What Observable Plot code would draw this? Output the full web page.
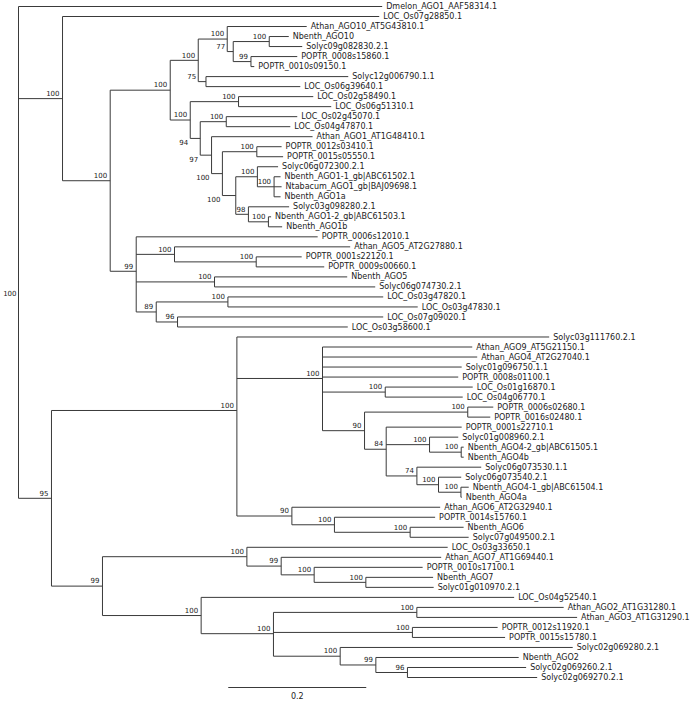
<!DOCTYPE html>
<html><head><meta charset="utf-8">
<script src="https://cdn.jsdelivr.net/npm/d3@7"></script>
<script src="https://cdn.jsdelivr.net/npm/@observablehq/plot@0.6"></script>
<style>body{margin:0;background:#fff}</style>
</head><body><div id="chart"></div>
<script>
// ---- Data: leaves (top to bottom), their parent node and branch length ----
const leafNames = [
"Dmelon_AGO1_AAF58314.1","LOC_Os07g28850.1","Athan_AGO10_AT5G43810.1","Nbenth_AGO10","Solyc09g082830.2.1",
"POPTR_0008s15860.1","POPTR_0010s09150.1","Solyc12g006790.1.1","LOC_Os06g39640.1","LOC_Os02g58490.1",
"LOC_Os06g51310.1","LOC_Os02g45070.1","LOC_Os04g47870.1","Athan_AGO1_AT1G48410.1","POPTR_0012s03410.1",
"POPTR_0015s05550.1","Solyc06g072300.2.1","Nbenth_AGO1-1_gb|ABC61502.1","Ntabacum_AGO1_gb|BAJ09698.1","Nbenth_AGO1a",
"Solyc03g098280.2.1","Nbenth_AGO1-2_gb|ABC61503.1","Nbenth_AGO1b","POPTR_0006s12010.1","Athan_AGO5_AT2G27880.1",
"POPTR_0001s22120.1","POPTR_0009s00660.1","Nbenth_AGO5","Solyc06g074730.2.1","LOC_Os03g47820.1",
"LOC_Os03g47830.1","LOC_Os07g09020.1","LOC_Os03g58600.1","Solyc03g111760.2.1","Athan_AGO9_AT5G21150.1",
"Athan_AGO4_AT2G27040.1","Solyc01g096750.1.1","POPTR_0008s01100.1","LOC_Os01g16870.1","LOC_Os04g06770.1",
"POPTR_0006s02680.1","POPTR_0016s02480.1","POPTR_0001s22710.1","Solyc01g008960.2.1","Nbenth_AGO4-2_gb|ABC61505.1",
"Nbenth_AGO4b","Solyc06g073530.1.1","Solyc06g073540.2.1","Nbenth_AGO4-1_gb|ABC61504.1","Nbenth_AGO4a",
"Athan_AGO6_AT2G32940.1","POPTR_0014s15760.1","Nbenth_AGO6","Solyc07g049500.2.1","LOC_Os03g33650.1",
"Athan_AGO7_AT1G69440.1","POPTR_0010s17100.1","Nbenth_AGO7","Solyc01g010970.2.1","LOC_Os04g52540.1",
"Athan_AGO2_AT1G31280.1","Athan_AGO3_AT1G31290.1","POPTR_0012s11920.1","POPTR_0015s15780.1","Solyc02g069280.2.1",
"Nbenth_AGO2","Solyc02g069260.2.1","Solyc02g069270.2.1"];
const leafParents = [
"root","A","G","J","J","K","K","H","H","M",
"M","M2","M2","O","Q2","Q2","S2","T2","T2","T2",
"U2","V2","V2","E","P","Q","Q","R","R","T",
"T","U","U","V","W","W","W","W","Y","Y",
"Z1","Z1","Z2","Z3","Z5","Z5","Z4","Z6","Z7","Z7",
"X","X2","X3","X3","C1","C3","C4","C5","C5","C2",
"C7","C7","C8","C8","C9","C10","C11","C11"];
const leafLengths = [
0.5271,0.4590,0.1152,0.0283,0.0478,0.0671,0.0048,0.2062,0.1367,0.1083,
0.1343,0.1029,0.0928,0.1464,0.0359,0.0381,0.0300,0.0094,0.0109,0.0094,
0.0590,0.0039,0.0199,0.2630,0.2546,0.0659,0.0986,0.1923,0.2329,0.2251,
0.2751,0.2981,0.2467,0.4526,0.2170,0.2242,0.2017,0.1967,0.1268,0.1123,
0.0370,0.0326,0.1094,0.0416,0.0036,0.0036,0.0932,0.0329,0.0113,0.0012,
0.2149,0.1459,0.0775,0.0848,0.2910,0.2319,0.1572,0.0975,0.0983,0.4536,
0.2128,0.2323,0.1235,0.1343,0.3370,0.2070,0.1720,0.1880];

// ---- Data: internal nodes, parent, branch length, bootstrap support ----
const nodeIds = ["root","R0","A","C","D","F","G","I","J","K","H","L","M","N","M2","O","P2","Q2","R2","S2","T2","U2","V2",
"E","P","Q","R","S","T","U","B","V","W","Y","Z","Z1","Z2","Z3","Z5","Z4","Z6","Z7","X","X2","X3",
"B2","C1","C3","C4","C5","C2","C6","C7","C8","C9","C10","C11"];
const nodeParents = [null,"root","R0","A","C","D","F","G","I","I","F","D","L","L","N","N","O","P2","P2","R2","S2","R2","U2",
"C","E","P","E","E","S","S","R0","B","V","W","W","Z","Z","Z2","Z3","Z2","Z4","Z6","V","X","X2",
"B","B2","C1","C3","C4","B2","C2","C6","C6","C6","C9","C10"];
const nodeLengths = [0,0,0.0638,0.0691,0.0870,0.0406,0.0420,0.0087,0.0522,0.0257,0.0112,0.0290,0.0700,0.0145,0.0377,0.0164,0.0157,0.0499,0.0194,0.0313,0.0242,0.0183,0.0290,
0.0377,0.0555,0.1184,0.1135,0.0290,0.1039,0.0309,0.0478,0.2687,0.1241,0.0909,0.0609,0.1496,0.0314,0.0628,0.0459,0.0445,0.0313,0.0325,0.0797,0.0617,0.1097,
0.0739,0.2093,0.0497,0.0478,0.0749,0.1430,0.1048,0.2078,0.2014,0.0967,0.0517,0.0458];
const nodeSupports = [null,100,100,100,100,100,100,77,100,99,75,100,100,94,100,97,100,100,100,100,100,98,100,
99,100,100,100,89,100,96,95,100,100,100,90,100,84,100,100,74,100,100,90,100,100,
99,100,99,100,100,100,100,100,100,100,99,96];

const scaleBarStart = 0.304;
const scaleBarLength = 0.2;
const scaleBarLabel = "0.2";

// ---- Styling / layout ----
const supportBelow = new Set(["N","O","P2","R2"]);
const width = 697, height = 703;
const marginLeft = 18, marginRight = 0, marginTop = 6, marginBottom = 26;
const pxPerUnit = 690;
const supFont = 7, leafFont = 8;
const lineColor = "#3a3a3a", textColor = "#222";

// ---- Build tree ----
const nodes = new Map();
nodeIds.forEach((id, i) => nodes.set(id, {id, parent: nodeParents[i], length: nodeLengths[i], support: nodeSupports[i], leaf: false, children: []}));
leafNames.forEach((name, i) => nodes.set("leaf:" + name, {id: name, parent: leafParents[i], length: leafLengths[i], leaf: true, y: i, children: []}));
for (const n of nodes.values()) if (n.parent) nodes.get(n.parent).children.push(n);
function depthOf(n) { if (n.depth !== undefined) return n.depth; n.depth = n.parent ? depthOf(nodes.get(n.parent)) + n.length : 0; return n.depth; }
function yOf(n) { if (n.y !== undefined) return n.y; n.y = d3.mean(n.children, yOf); return n.y; }
for (const n of nodes.values()) { depthOf(n); yOf(n); }
const all = [...nodes.values()];

const segs = [];
for (const n of all) {
  if (n.parent) segs.push({x1: nodes.get(n.parent).depth, x2: n.depth, y1: n.y, y2: n.y});
  if (!n.leaf) segs.push({x1: n.depth, x2: n.depth, y1: d3.min(n.children, c => c.y), y2: d3.max(n.children, c => c.y)});
}
const leaves = all.filter(n => n.leaf);
const sup = all.filter(n => !n.leaf && n.support != null).map(n => {
  const w = String(n.support).length * supFont * 0.636;
  const shifted = n.length * pxPerUnit < w + 3;
  return {text: String(n.support), y: n.y, x: shifted ? nodes.get(n.parent).depth : n.depth, shifted, below: supportBelow.has(n.id)};
});
const supNormal = sup.filter(d => !d.shifted);
const supShiftUp = sup.filter(d => d.shifted && !d.below);
const supShiftDown = sup.filter(d => d.shifted && d.below);
const bar = [{x1: scaleBarStart, x2: scaleBarStart + scaleBarLength, y: leafNames.length, label: scaleBarLabel}];

const chart = Plot.plot({
  width, height, marginLeft, marginRight, marginTop, marginBottom,
  x: {domain: [0, (width - marginLeft - marginRight) / pxPerUnit], axis: null},
  y: {domain: [0, leafNames.length - 1], reverse: true, axis: null},
  style: {fontFamily: "'DejaVu Sans', sans-serif", background: "#fff", overflow: "visible"},
  marks: [
    Plot.link(segs, {x1: "x1", y1: "y1", x2: "x2", y2: "y2", stroke: lineColor, strokeWidth: 1}),
    Plot.text(leaves, {x: "depth", y: "y", text: "id", textAnchor: "start", dx: 4, fontSize: leafFont, fill: textColor}),
    Plot.text(supNormal, {x: "x", y: "y", text: "text", textAnchor: "end", dx: -3, dy: -5, fontSize: supFont, fill: textColor}),
    Plot.text(supShiftUp, {x: "x", y: "y", text: "text", textAnchor: "end", dx: -2, dy: -5, fontSize: supFont, fill: textColor}),
    Plot.text(supShiftDown, {x: "x", y: "y", text: "text", textAnchor: "end", dx: -2, dy: 4.5, fontSize: supFont, fill: textColor}),
    Plot.link(bar, {x1: "x1", x2: "x2", y1: "y", y2: "y", stroke: lineColor, strokeWidth: 1}),
    Plot.text(bar, {x: d => (d.x1 + d.x2) / 2, y: "y", text: "label", dy: 9, fontSize: leafFont, fill: textColor})
  ]
});
document.getElementById("chart").append(chart);
</script>
</body></html>
